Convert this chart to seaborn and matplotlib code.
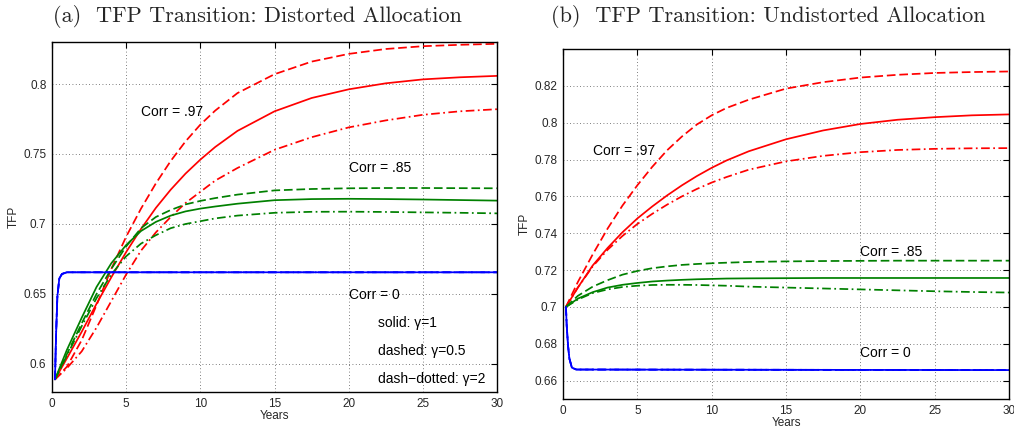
import pandas as pd
import matplotlib
matplotlib.use("Agg")
import matplotlib.pyplot as plt
import seaborn as sns

# common time grid for the red and green paths (years)
YEARS = [0.2, 1, 2, 3, 4, 5, 6, 7, 8, 9, 10, 11, 12.5, 15, 17.5, 20, 22.5, 25, 27.5, 30]

# (a) distorted allocation
A_RED_G1 = [0.589, 0.604, 0.623, 0.643, 0.662, 0.680, 0.6965, 0.7115, 0.7245, 0.736, 0.746, 0.755, 0.7665, 0.7805, 0.790, 0.7962, 0.8005, 0.8033, 0.8048, 0.8058]
A_RED_G05 = [0.589, 0.598, 0.617, 0.642, 0.668, 0.691, 0.711, 0.729, 0.745, 0.759, 0.771, 0.781, 0.7935, 0.807, 0.816, 0.8215, 0.825, 0.827, 0.828, 0.8287]
A_RED_G2 = [0.589, 0.597, 0.609, 0.626, 0.645, 0.664, 0.681, 0.694, 0.705, 0.715, 0.723, 0.731, 0.740, 0.753, 0.762, 0.769, 0.774, 0.778, 0.7805, 0.782]
A_GREEN_G1 = [0.589, 0.610, 0.633, 0.655, 0.672, 0.685, 0.695, 0.7015, 0.706, 0.709, 0.711, 0.7125, 0.7145, 0.717, 0.7178, 0.718, 0.7178, 0.7175, 0.7171, 0.7167]
A_GREEN_G05 = [0.589, 0.607, 0.629, 0.650, 0.668, 0.684, 0.697, 0.705, 0.710, 0.714, 0.7165, 0.7185, 0.721, 0.724, 0.725, 0.7255, 0.7257, 0.7257, 0.7256, 0.7255]
A_GREEN_G2 = [0.589, 0.606, 0.627, 0.647, 0.664, 0.677, 0.686, 0.692, 0.697, 0.700, 0.702, 0.704, 0.706, 0.708, 0.7087, 0.7088, 0.7086, 0.7083, 0.708, 0.7076]
A_BLUE_YEARS = [0.2, 0.27, 0.36, 0.49, 0.67, 1.0, 30]
A_BLUE = [0.589, 0.620, 0.648, 0.661, 0.6643, 0.6655, 0.6655]

# (b) undistorted allocation
B_RED_G1 = [0.700, 0.7105, 0.7225, 0.732, 0.7405, 0.748, 0.7545, 0.7605, 0.766, 0.771, 0.7755, 0.7795, 0.7845, 0.791, 0.7958, 0.7993, 0.8016, 0.803, 0.804, 0.8045]
B_RED_G05 = [0.700, 0.7135, 0.7285, 0.7425, 0.755, 0.766, 0.776, 0.785, 0.7925, 0.799, 0.804, 0.808, 0.8125, 0.8185, 0.822, 0.8245, 0.826, 0.827, 0.8275, 0.8278]
B_RED_G2 = [0.700, 0.7105, 0.722, 0.731, 0.7385, 0.745, 0.7505, 0.7555, 0.760, 0.764, 0.7675, 0.7705, 0.7745, 0.779, 0.782, 0.784, 0.7852, 0.7858, 0.7861, 0.7862]
B_GREEN_G1 = [0.700, 0.7045, 0.708, 0.7105, 0.712, 0.713, 0.7138, 0.7143, 0.7147, 0.715, 0.7152, 0.7154, 0.7155, 0.7156, 0.7157, 0.7157, 0.7157, 0.7157, 0.7157, 0.7157]
B_GREEN_G05 = [0.700, 0.706, 0.711, 0.7145, 0.7175, 0.7195, 0.721, 0.722, 0.7228, 0.7233, 0.7237, 0.724, 0.7244, 0.7247, 0.7249, 0.725, 0.7251, 0.7251, 0.7251, 0.7251]
B_GREEN_G2 = [0.700, 0.704, 0.7075, 0.7095, 0.7108, 0.7115, 0.7119, 0.712, 0.712, 0.7119, 0.7117, 0.7115, 0.711, 0.7105, 0.710, 0.7095, 0.709, 0.7085, 0.7081, 0.7078]
B_BLUE_YEARS = [0.2, 0.25, 0.34, 0.43, 0.6, 0.9, 30]
B_BLUE = [0.700, 0.690, 0.679, 0.672, 0.667, 0.666, 0.6657]

GAMMAS = ["1", "0.5", "2"]
TITLES = ["(a)  TFP Transition: Distorted Allocation", "(b)  TFP Transition: Undistorted Allocation"]
A_YTICKS = [0.6, 0.65, 0.7, 0.75, 0.8]
A_YLABELS = ["0.6", "0.65", "0.7", "0.75", "0.8"]
B_YTICKS = [0.66, 0.68, 0.7, 0.72, 0.74, 0.76, 0.78, 0.8, 0.82]
B_YLABELS = ["0.66", "0.68", "0.7", "0.72", "0.74", "0.76", "0.78", "0.8", "0.82"]
XTICKS = [0, 5, 10, 15, 20, 25, 30]


def long_frame(red, green, blue_years, blue):
    rows = []
    for g, vals in zip(GAMMAS, red):
        rows += [("0.97", g, t, v) for t, v in zip(YEARS, vals)]
    for g, vals in zip(GAMMAS, green):
        rows += [("0.85", g, t, v) for t, v in zip(YEARS, vals)]
    for g in GAMMAS:
        rows += [("0", g, t, v) for t, v in zip(blue_years, blue)]
    return pd.DataFrame(rows, columns=["corr", "gamma", "year", "tfp"])


df_a = long_frame([A_RED_G1, A_RED_G05, A_RED_G2], [A_GREEN_G1, A_GREEN_G05, A_GREEN_G2], A_BLUE_YEARS, A_BLUE)
df_b = long_frame([B_RED_G1, B_RED_G05, B_RED_G2], [B_GREEN_G1, B_GREEN_G05, B_GREEN_G2], B_BLUE_YEARS, B_BLUE)

sns.set_style("white")
plt.rcParams["font.family"] = ["Liberation Sans", "DejaVu Sans"]

palette = {"0.97": "#ff0000", "0.85": "#008000", "0": "#0000ff"}
dashes = {"1": "", "0.5": (5, 2.2), "2": (5, 2, 1, 2)}

fig = plt.figure(figsize=(10.14, 4.33), dpi=100)
ax_a = fig.add_axes([0.0513, 0.0947, 0.4389, 0.8083])
ax_b = fig.add_axes([0.5552, 0.0785, 0.4399, 0.8083])

panels = [
    (ax_a, df_a, (0.58, 0.83), A_YTICKS, A_YLABELS),
    (ax_b, df_b, (0.65, 0.84), B_YTICKS, B_YLABELS),
]
for ax, df, ylim, yt, yl in panels:
    sns.lineplot(data=df, x="year", y="tfp", hue="corr", style="gamma",
                 palette=palette, dashes=dashes, linewidth=1.25,
                 legend=False, estimator=None, ax=ax)
    ax.set_xlim(0, 30)
    ax.set_ylim(*ylim)
    ax.set_xticks(XTICKS)
    ax.set_xticklabels([str(x) for x in XTICKS])
    ax.set_yticks(yt)
    ax.set_yticklabels(yl)
    ax.tick_params(direction="in", length=4, width=0.8, labelsize=8.5,
                   top=True, right=True, pad=4, color="black")
    ax.grid(True, linestyle=(0, (1, 3)), linewidth=0.6, color="#555555")
    for s in ax.spines.values():
        s.set_color("black")
        s.set_linewidth(1.0)
    ax.set_xlabel("Years", fontsize=8.5, labelpad=0)
    ax.set_ylabel("TFP", fontsize=8.5)
    ax.yaxis.set_label_coords(-0.072, 0.5)

txt = dict(fontsize=10, va="center", ha="left", color="black")
ax_a.text(6.0, 0.780, "Corr = .97", **txt)
ax_a.text(20.0, 0.740, "Corr = .85", **txt)
ax_a.text(20.0, 0.6493, "Corr = 0", **txt)
ax_a.text(22.0, 0.629, "solid: γ=1", **txt)
ax_a.text(22.0, 0.6093, "dashed: γ=0.5", **txt)
ax_a.text(22.0, 0.5893, "dash−dotted: γ=2", **txt)

ax_b.text(2.0, 0.7845, "Corr = .97", **txt)
ax_b.text(20.0, 0.7299, "Corr = .85", **txt)
ax_b.text(20.0, 0.675, "Corr = 0", **txt)

fig.text(257 / 1014, 1 - 16 / 433, TITLES[0], fontfamily="cmr10", fontsize=16, ha="center", va="center")
fig.text(768 / 1014, 1 - 16 / 433, TITLES[1], fontfamily="cmr10", fontsize=16, ha="center", va="center")

fig.savefig("out.png", dpi=100)
